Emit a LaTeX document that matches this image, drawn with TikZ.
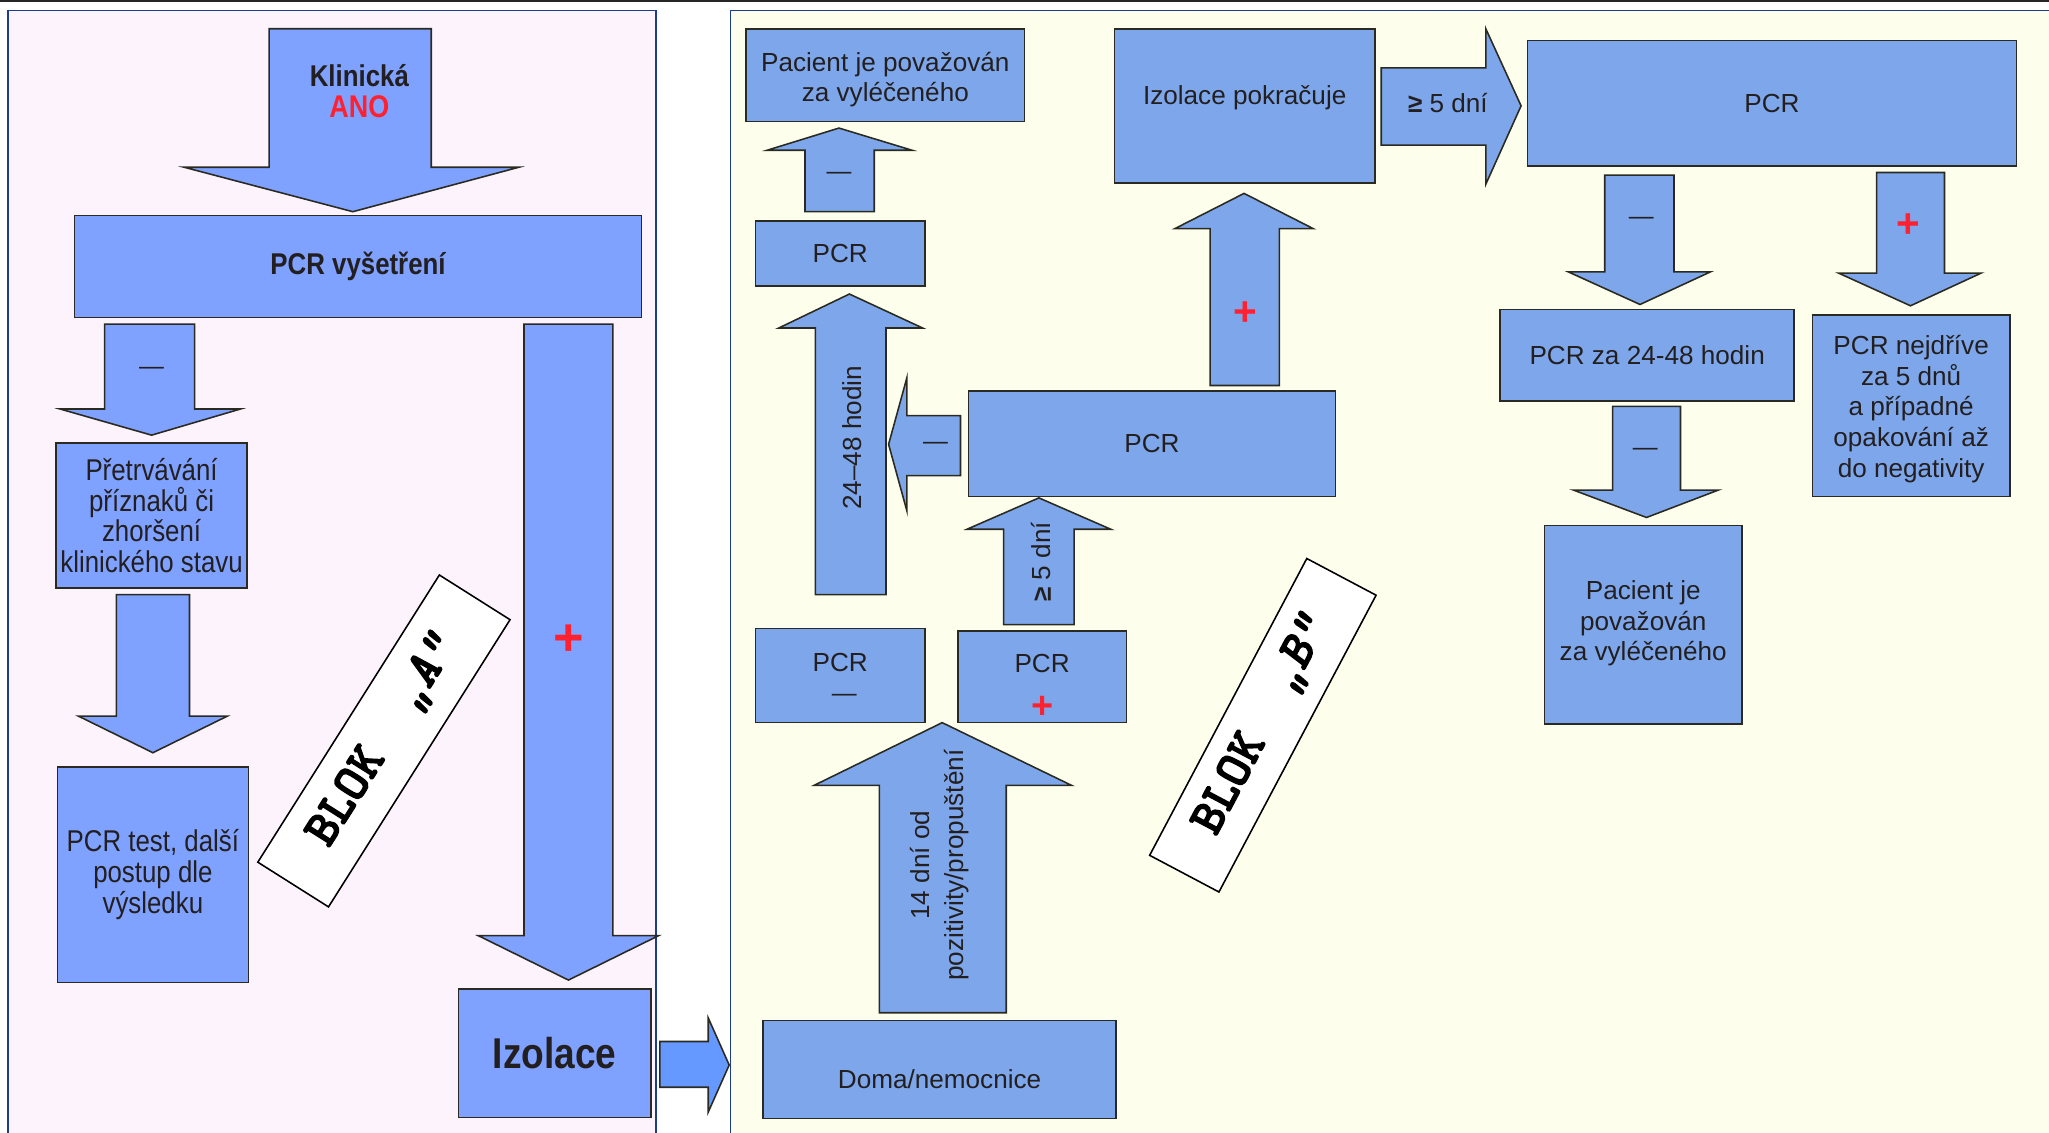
\documentclass[tikz,border=0pt]{standalone}
\usepackage{fontspec}
\setmainfont{Liberation Sans}
\newfontfamily\narrowf[FakeStretch=0.86]{Liberation Sans}
\newfontfamily\blokf[FakeBold=2.5]{lmmonolt10-bold.otf}
\newfontfamily\blokfs[FakeBold=2.5]{lmmonolt10-boldoblique.otf}
\definecolor{bgL}{HTML}{FDF3FC}
\definecolor{bgR}{HTML}{FEFEEC}
\definecolor{navy}{HTML}{1C3C8C}
\definecolor{boxL}{HTML}{7FA1FF}
\definecolor{boxR}{HTML}{7EA7EB}
\definecolor{gapc}{HTML}{6699FF}
\definecolor{edgec}{HTML}{2A2A22}
\definecolor{txt}{HTML}{231F20}
\definecolor{redc}{HTML}{FF2030}
\tikzset{
  boxl/.style={draw=edgec, fill=boxL, line width=1.2pt, inner sep=0pt, align=center, text=txt,
    font=\narrowf\fontsize{23}{23.6}\selectfont},
  boxr/.style={draw=edgec, fill=boxR, line width=1.2pt, inner sep=0pt, align=center, text=txt,
    font=\fontsize{20}{23.5}\selectfont},
  arrl/.style={draw=edgec, fill=boxL, line width=1.2pt, line join=miter},
  arrr/.style={draw=edgec, fill=boxR, line width=1.2pt, line join=miter},
  lbl/.style={inner sep=0pt, text=txt, align=center, font=\fontsize{20}{23.5}\selectfont},
  minus/.style={inner sep=0pt, text=txt, font=\fontsize{19}{20}\selectfont},
  plusl/.style={inner sep=0pt, text=redc, font=\bfseries\fontsize{40}{40}\selectfont},
  plusr/.style={inner sep=0pt, text=redc, font=\bfseries\fontsize{31}{31}\selectfont},
  blok/.style={draw=black, fill=white, line width=1.2pt, inner sep=0pt, text=black,
    font=\blokf\fontsize{39}{39}\selectfont},
  panel/.style={draw=navy, line width=1.2pt}
}
\begin{document}
\begin{tikzpicture}[x=1pt, y=-1pt]
\useasboundingbox (0,0) rectangle (1568,867);
\fill[white] (0,0) rectangle (1568,867);
% panels
\draw[panel, fill=bgL] (6,8) rectangle (502,875);
\draw[panel, fill=bgR] (559,8) rectangle (1580,875);
\draw[line width=1.5pt, black!85] (0,0.8) -- (1568,0.8);

% ---------- left block ----------
\draw[arrl] (206,22)--(330,22)--(330,128)--(397,128)--(270,162)--(141,128)--(206,128)--cycle;
\node[inner sep=0pt, text=txt, font=\narrowf\bfseries\fontsize{23}{23}\selectfont] (klin) at (275,58) {Klinická};
\node[inner sep=0pt, text=redc, font=\narrowf\bfseries\fontsize{24}{24}\selectfont] (ano) at (275,82) {ANO};

\node[boxl, minimum width=434, minimum height=78, font=\narrowf\bfseries\fontsize{23}{23}\selectfont] (pcrv) at (274,204) {PCR vyšetření};

\draw[arrl] (80,248)--(149,248)--(149,313)--(184,313)--(116,333)--(46,313)--(80,313)--cycle;
\node[minus] (m1) at (116,284) {—};

\node[boxl, minimum width=146, minimum height=111] (pretr) at (116,394.5) {Přetrvávání\\příznaků či\\zhoršení\\klinického stavu};

\draw[arrl] (89,455)--(145,455)--(145,548)--(174,548)--(117,576)--(60,548)--(89,548)--cycle;

\node[boxl, minimum width=146, minimum height=165] (pcrtest) at (117,669.5) {PCR test, další\\postup dle\\výsledku};

\draw[arrl] (401,248)--(469,248)--(469,716)--(504,716)--(435,750)--(366,716)--(401,716)--cycle;
\node[plusl] (p1) at (435,490) {+};

\node[boxl, minimum width=147, minimum height=98, font=\narrowf\bfseries\fontsize{33}{33}\selectfont] (izol) at (424.5,806) {Izolace};

\node[blok, rotate=57.7, minimum width=260, minimum height=64] (blokA) at (293.8,567) {BLOK\ \ {\blokfs „A“}};

% gap arrow
\draw[draw=edgec, fill=gapc, line width=1.2pt] (505,797)--(542,797)--(542,779)--(558,815)--(542,851)--(542,832)--(505,832)--cycle;

% ---------- right block ----------
\node[boxr, minimum width=213, minimum height=71] (pac1) at (677.5,57.5) {};
\node[lbl] (pac1t) at (677.5,61) {Pacient je považován\\za vyléčeného};

\draw[arrr] (616,162)--(669,162)--(669,115)--(698,115)--(642,98)--(587,115)--(616,115)--cycle;
\node[minus] (m2) at (642,135) {—};

\node[boxr, minimum width=130, minimum height=50] (pcr1) at (643,194) {PCR};

\draw[arrr] (624,455)--(678,455)--(678,251)--(706,251)--(650,225)--(596,251)--(624,251)--cycle;
\node[lbl, rotate=90] (t2448) at (652,335) {24–48 hodin};

\draw[arrr] (735,318)--(735,364)--(694,364)--(694,391)--(680,340)--(694,289)--(694,318)--cycle;
\node[minus] (m3) at (716,341) {—};

\node[boxr, minimum width=281, minimum height=81] (pcrmid) at (881.5,339.5) {PCR};

\draw[arrr] (768,478)--(822,478)--(822,405)--(850,405)--(795,381)--(740,405)--(768,405)--cycle;
\node[lbl, rotate=90] (t5a) at (797,430) {\textbf{≥} 5 dní};

\node[boxr, minimum width=130, minimum height=72] (pcrneg) at (643,517) {};
\node[lbl] (pcrnegt) at (643,507) {PCR};
\node[minus] (pcrnegm) at (646,534) {—};
\node[boxr, minimum width=129, minimum height=70] (pcrpos) at (797.5,518) {};
\node[lbl] (pcrpost) at (797.5,508) {PCR};
\node[plusr, font=\bfseries\fontsize{29}{29}\selectfont] (pcrposp) at (797.5,541) {+};

\draw[arrr] (673,775)--(770,775)--(770,601)--(820,601)--(721,553)--(623,601)--(673,601)--cycle;
\node[lbl, rotate=90, font=\fontsize{20}{26}\selectfont] (t14) at (719,662) {14 dní od\\pozitivity/propuštění};

\node[boxr, minimum width=270, minimum height=75] (doma) at (719,818.5) {};
\node[lbl] (domat) at (719,826) {Doma/nemocnice};

\draw[arrr] (926,295)--(979,295)--(979,175)--(1005,175)--(952,148)--(899,175)--(926,175)--cycle;
\node[plusr] (p2) at (953,240) {+};

\node[boxr, minimum width=199, minimum height=118] (izpok) at (952.5,81) {};
\node[lbl] (izpokt) at (952.5,75) {Izolace pokračuje};

\draw[arrr] (1057,52)--(1137,52)--(1137,22)--(1164,81)--(1137,141)--(1137,111)--(1057,111)--cycle;
\node[lbl] (t5b) at (1108,79) {\textbf{≥} 5 dní};

\node[boxr, minimum width=374, minimum height=96] (pcrbig) at (1356,79) {PCR};

\draw[arrr] (1228,134)--(1281,134)--(1281,208)--(1309,208)--(1255,233)--(1200,208)--(1228,208)--cycle;
\node[minus] (m4) at (1256,169) {—};

\draw[arrr] (1436,132)--(1488,132)--(1488,209)--(1516,209)--(1462,234)--(1407,209)--(1436,209)--cycle;
\node[plusr] (p3) at (1460,173) {+};

\node[boxr, minimum width=225, minimum height=70] (pcr2448) at (1260.5,272) {PCR za 24-48 hodin};
\node[boxr, minimum width=151, minimum height=139] (pcrnej) at (1462.5,310.5) {};
\node[lbl] (pcrnejt) at (1462.5,313) {PCR nejdříve\\za 5 dnů\\a případné\\opakování až\\do negativity};

\draw[arrr] (1234,311)--(1286,311)--(1286,375)--(1315,375)--(1260,396)--(1204,375)--(1234,375)--cycle;
\node[minus] (m5) at (1259,346) {—};

\node[boxr, minimum width=151, minimum height=152] (pac2) at (1257.5,478) {};
\node[lbl] (pac2t) at (1257.5,477) {Pacient je\\považován\\za vyléčeného};

\node[blok, rotate=62.1, minimum width=257, minimum height=60] (blokB) at (966.4,555) {BLOK\ \ {\blokfs „B“}};
\end{tikzpicture}
\end{document}
